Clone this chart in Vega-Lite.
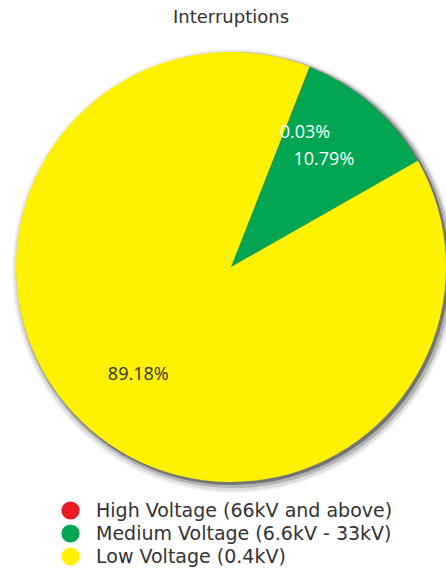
{
  "$schema": "https://vega.github.io/schema/vega-lite/v6.json",
  "width": 430,
  "height": 430,
  "autosize": "none",
  "padding": {"left": 16, "top": 52, "right": 0, "bottom": 90},
  "background": "white",
  "title": {"text": "Interruptions", "font": "DejaVu Sans", "fontSize": 18, "fontWeight": "normal", "color": "#333333", "anchor": "middle", "offset": 22},
  "config": {"view": {"stroke": null}},
  "data": {"values": [
    {"category": "High Voltage (66kV and above)", "share": 0.03, "label": "0.03%", "rank": 1},
    {"category": "Medium Voltage (6.6kV - 33kV)", "share": 10.79, "label": "10.79%", "rank": 2},
    {"category": "Low Voltage (0.4kV)", "share": 89.18, "label": "89.18%", "rank": 3}
  ]},
  "encoding": {
    "theta": {"field": "share", "type": "quantitative", "stack": true, "scale": {"range": [0.374, 6.657]}},
    "order": {"field": "rank", "type": "quantitative"}
  },
  "layer": [
    {"mark": {"type": "arc", "radius": 222, "opacity": 0.05, "xOffset": 3, "yOffset": 4, "strokeWidth": 0}, "encoding": {"color": {"value": "black"}}},
    {"mark": {"type": "arc", "radius": 220, "opacity": 0.09, "xOffset": 3, "yOffset": 4, "strokeWidth": 0}, "encoding": {"color": {"value": "black"}}},
    {"mark": {"type": "arc", "radius": 218, "opacity": 0.18, "xOffset": 3, "yOffset": 3, "strokeWidth": 0}, "encoding": {"color": {"value": "black"}}},
    {"mark": {"type": "arc", "radius": 216, "opacity": 0.35, "xOffset": 2, "yOffset": 2, "strokeWidth": 0}, "encoding": {"color": {"value": "black"}}},
    {
      "mark": {"type": "arc", "radius": 215},
      "encoding": {
        "color": {
          "field": "category", "type": "nominal",
          "sort": ["High Voltage (66kV and above)", "Medium Voltage (6.6kV - 33kV)", "Low Voltage (0.4kV)"],
          "scale": {"domain": ["High Voltage (66kV and above)", "Medium Voltage (6.6kV - 33kV)", "Low Voltage (0.4kV)"], "range": ["#ED1C24", "#00A651", "#FFF200"]},
          "legend": {
            "title": null, "orient": "none", "legendX": 45, "legendY": 449,
            "symbolType": "circle", "symbolSize": 330, "symbolStrokeWidth": 0,
            "labelFont": "DejaVu Sans", "labelFontSize": 19, "labelColor": "#333333",
            "rowPadding": 3, "labelOffset": 16, "labelLimit": 400
          }
        }
      }
    },
    {
      "transform": [{"filter": "datum.rank != 1"}],
      "mark": {"type": "text", "radius": 142, "font": "Open Sans", "fontSize": 18},
      "encoding": {
        "text": {"field": "label"},
        "color": {"condition": {"test": "datum.rank == 3", "value": "#333333"}, "value": "white"}
      }
    },
    {
      "transform": [{"filter": "datum.rank == 1"}],
      "mark": {"type": "text", "radius": 142, "font": "Open Sans", "fontSize": 18, "dx": 22, "dy": -2, "color": "white"},
      "encoding": {
        "text": {"field": "label"}
      }
    }
  ]
}
